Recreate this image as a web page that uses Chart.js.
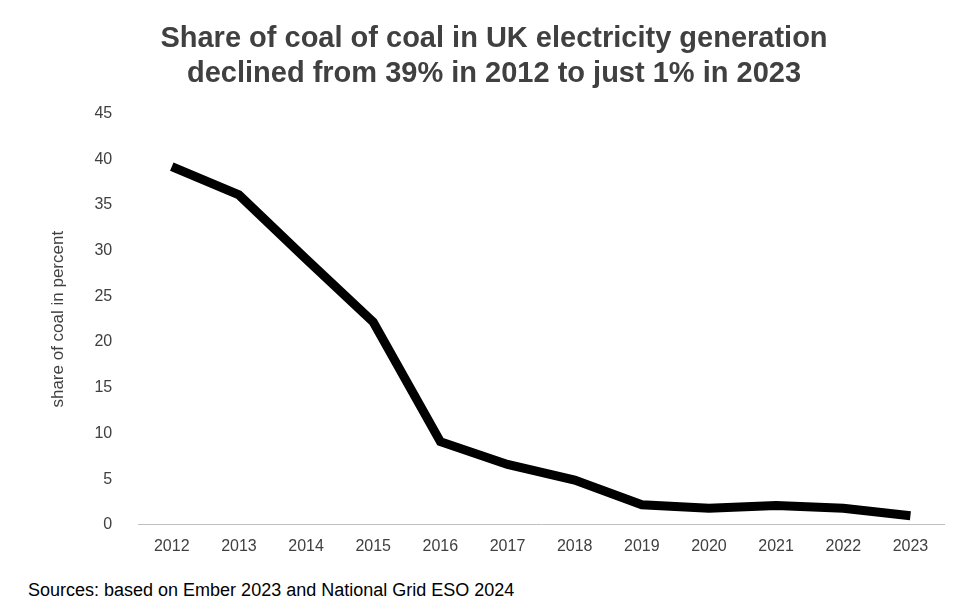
<!DOCTYPE html>
<html><head><meta charset="utf-8">
<script src="https://cdn.jsdelivr.net/npm/chart.js@4"></script>
<style>html,body{margin:0;padding:0;background:#fff;}#wrap{position:relative;width:964px;height:616px;}
#src{position:absolute;left:28px;top:580px;font-family:"Liberation Sans",Arial,sans-serif;font-size:18px;color:#000;}</style>
</head><body><div id="wrap"><canvas id="c" width="964" height="568"></canvas><div id="src">Sources: based on Ember 2023 and National Grid ESO 2024</div></div>
<script>
const years=["2012","2013","2014","2015","2016","2017","2018","2019","2020","2021","2022","2023"];
const coalShare=[39.2,36.1,29.1,22.2,9.1,6.6,4.9,2.2,1.8,2.1,1.8,1.0];
new Chart(document.getElementById('c'),{type:'line',
data:{labels:years,datasets:[{data:coalShare,borderColor:'#000',borderWidth:9,pointRadius:0,tension:0,borderCapStyle:'butt'}]},
options:{responsive:false,animation:false,
layout:{padding:{left:44,right:20,top:0,bottom:0}},
plugins:{legend:{display:false},tooltip:{enabled:false},
title:{display:true,text:["Share of coal of coal in UK electricity generation","declined from 39% in 2012 to just 1% in 2023"],
font:{family:"Liberation Sans",size:29,weight:'bold'},color:'#404040',padding:{top:22,bottom:22},lineHeight:1.2}},
scales:{
x:{offset:true,grid:{display:false,drawTicks:false},border:{color:'#bfbfbf'},ticks:{color:'#404040',font:{family:"Liberation Sans",size:16},padding:12}},
y:{min:0,max:45,grid:{display:false},border:{display:false},ticks:{stepSize:5,color:'#404040',font:{family:"Liberation Sans",size:16},padding:18},
title:{display:true,text:'share of coal in percent',color:'#404040',font:{family:"Liberation Sans",size:17},padding:{bottom:8}}}}}});
</script></body></html>
